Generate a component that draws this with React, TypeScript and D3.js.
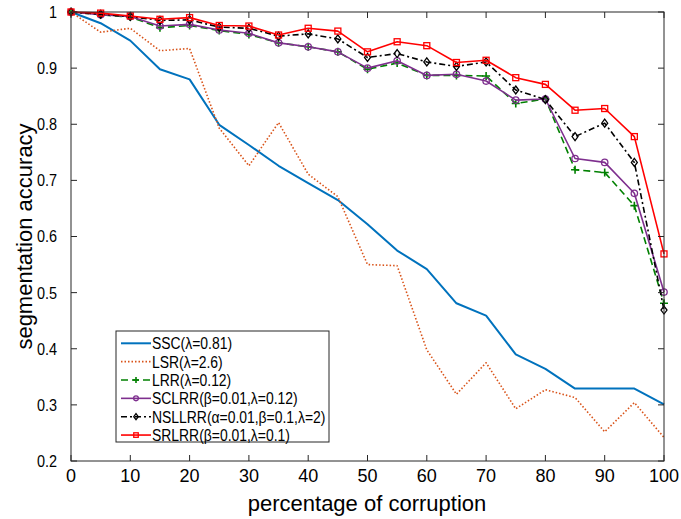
import * as d3 from 'd3';
import React, { useRef, useEffect } from 'react';

const corruption = [0, 5, 10, 15, 20, 25, 30, 35, 40, 45, 50, 55, 60, 65, 70, 75, 80, 85, 90, 95, 100];

const ssc = [1.0, 0.98, 0.949, 0.898, 0.88, 0.799, 0.763, 0.726, 0.695, 0.665, 0.622, 0.575, 0.542, 0.481, 0.459, 0.39, 0.364, 0.329, 0.329, 0.329, 0.301];
const lsr = [1.0, 0.964, 0.971, 0.931, 0.935, 0.793, 0.726, 0.803, 0.711, 0.671, 0.55, 0.548, 0.398, 0.319, 0.375, 0.293, 0.327, 0.313, 0.252, 0.304, 0.242];
const lrr = [1.0, 0.995, 0.991, 0.972, 0.976, 0.967, 0.96, 0.945, 0.938, 0.929, 0.898, 0.909, 0.887, 0.887, 0.886, 0.837, 0.845, 0.719, 0.714, 0.655, 0.481];
const sclrr = [1.0, 0.995, 0.992, 0.975, 0.978, 0.968, 0.962, 0.945, 0.938, 0.929, 0.9, 0.913, 0.887, 0.889, 0.877, 0.843, 0.845, 0.739, 0.732, 0.677, 0.501];
const nsllrr = [1.0, 0.996, 0.992, 0.985, 0.986, 0.973, 0.971, 0.957, 0.961, 0.952, 0.919, 0.926, 0.911, 0.903, 0.911, 0.861, 0.844, 0.778, 0.802, 0.732, 0.469];
const srlrr = [1.0, 0.998, 0.993, 0.987, 0.99, 0.976, 0.975, 0.959, 0.971, 0.966, 0.929, 0.947, 0.94, 0.91, 0.914, 0.883, 0.871, 0.825, 0.828, 0.778, 0.569];

const seriesNames = ['SSC(λ=0.81)', 'LSR(λ=2.6)', 'LRR(λ=0.12)', 'SCLRR(β=0.01,λ=0.12)', 'NSLLRR(α=0.01,β=0.1,λ=2)', 'SRLRR(β=0.01,λ=0.1)'];
const xTicks = [0, 10, 20, 30, 40, 50, 60, 70, 80, 90, 100];
const yTicks = [0.2, 0.3, 0.4, 0.5, 0.6, 0.7, 0.8, 0.9, 1];
const yTickLabels = ['0.2', '0.3', '0.4', '0.5', '0.6', '0.7', '0.8', '0.9', '1'];

const styles = [
  { color: '#0072BD', dash: null, width: 2, marker: 'none' },
  { color: '#D95319', dash: '1.5,2', width: 1.6, marker: 'none' },
  { color: '#008000', dash: '7,4', width: 1.6, marker: 'plus' },
  { color: '#7E2F8E', dash: null, width: 1.6, marker: 'circle' },
  { color: '#000000', dash: '6,3,2,3', width: 1.6, marker: 'diamond' },
  { color: '#FF0000', dash: null, width: 1.6, marker: 'square' },
];

const width = 681;
const height = 519;
const font = 'Arial, "Liberation Sans", Helvetica, sans-serif';

const App = () => {
  const ref = useRef(null);

  useEffect(() => {
    const svg = d3.select(ref.current);
    svg.selectAll('*').remove();

    const x = d3.scaleLinear().domain([0, 100]).range([71, 664]);
    const y = d3.scaleLinear().domain([0.2, 1]).range([461, 12]);
    const axisColor = '#262626';

    svg.append('rect').attr('width', width).attr('height', height).attr('fill', '#fff');

    const data = [ssc, lsr, lrr, sclrr, nsllrr, srlrr];

    // s = marker scale (legend uses smaller ones)
    const drawMarker = (g, kind, cx, cy, color, s = 1) => {
      if (kind === 'square') {
        g.append('rect').attr('x', cx - 3 * s).attr('y', cy - 3 * s).attr('width', 6 * s).attr('height', 6 * s)
          .attr('fill', 'none').attr('stroke', color).attr('stroke-width', 1.3);
      } else if (kind === 'circle') {
        g.append('circle').attr('cx', cx).attr('cy', cy).attr('r', 3.2 * s)
          .attr('fill', 'none').attr('stroke', color).attr('stroke-width', 1.3);
      } else if (kind === 'diamond') {
        g.append('path').attr('d', `M${cx},${cy - 4 * s}L${cx + 3 * s},${cy}L${cx},${cy + 4 * s}L${cx - 3 * s},${cy}Z`)
          .attr('fill', 'none').attr('stroke', color).attr('stroke-width', 1.3);
      } else if (kind === 'plus') {
        g.append('path').attr('d', `M${cx - 4 * s},${cy}H${cx + 4 * s}M${cx},${cy - 4 * s}V${cy + 4 * s}`)
          .attr('fill', 'none').attr('stroke', color).attr('stroke-width', 1.6);
      }
    };

    const plot = svg.append('g');
    const line = d3.line().x((d) => x(d[0])).y((d) => y(d[1]));

    data.forEach((vals, i) => {
      const st = styles[i];
      const pts = corruption.map((c, j) => [c, vals[j]]);
      plot.append('path').attr('d', line(pts)).attr('fill', 'none')
        .attr('stroke', st.color).attr('stroke-width', st.width)
        .attr('stroke-dasharray', st.dash).attr('stroke-linejoin', 'round');
      pts.forEach((p) => drawMarker(plot, st.marker, x(p[0]), y(p[1]), st.color));
    });

    // axes box
    const axis = svg.append('g').attr('stroke', axisColor).attr('stroke-width', 1).attr('fill', 'none');
    axis.append('rect').attr('x', 71).attr('y', 12).attr('width', 593).attr('height', 449);
    xTicks.forEach((t) => {
      axis.append('line').attr('x1', x(t)).attr('x2', x(t)).attr('y1', 461).attr('y2', 455);
      axis.append('line').attr('x1', x(t)).attr('x2', x(t)).attr('y1', 12).attr('y2', 18);
    });
    yTicks.forEach((t) => {
      axis.append('line').attr('x1', 71).attr('x2', 77).attr('y1', y(t)).attr('y2', y(t));
      axis.append('line').attr('x1', 664).attr('x2', 658).attr('y1', y(t)).attr('y2', y(t));
    });

    const txt = svg.append('g').attr('font-family', font).attr('fill', '#000');
    xTicks.forEach((t) => {
      txt.append('text').attr('x', x(t)).attr('y', 482).attr('text-anchor', 'middle')
        .attr('font-size', 18).text(t);
    });
    yTicks.forEach((t, i) => {
      txt.append('text').attr('transform', `translate(57,${y(t)}) scale(0.85,1)`)
        .attr('text-anchor', 'end').attr('dominant-baseline', 'central')
        .attr('font-size', 17).text(yTickLabels[i]);
    });
    txt.append('text').attr('x', 367).attr('y', 511).attr('text-anchor', 'middle')
      .attr('font-size', 22).text('percentage of corruption');
    txt.append('text').attr('transform', `translate(32,${(12 + 461) / 2}) rotate(-90)`)
      .attr('text-anchor', 'middle').attr('font-size', 22).text('segmentation accuracy');

    // legend
    const lg = svg.append('g');
    lg.append('rect').attr('x', 116).attr('y', 331).attr('width', 213).attr('height', 111)
      .attr('fill', '#fff').attr('stroke', axisColor).attr('stroke-width', 1);
    seriesNames.forEach((name, i) => {
      const st = styles[i];
      const ly = 343.3 + i * 18.35;
      lg.append('line').attr('x1', 121).attr('x2', 151).attr('y1', ly).attr('y2', ly)
        .attr('stroke', st.color).attr('stroke-width', st.width).attr('stroke-dasharray', st.dash);
      drawMarker(lg, st.marker, 136, ly, st.color, 0.75);
      lg.append('text').attr('transform', `translate(152,${ly}) scale(0.87,1)`)
        .attr('dominant-baseline', 'central').attr('font-family', font).attr('font-size', 16)
        .text(name);
    });
  }, []);

  return (
    <svg ref={ref} width={width} height={height} style={{ position: 'absolute', left: 0, top: 0 }} />
  );
};

export default App;
